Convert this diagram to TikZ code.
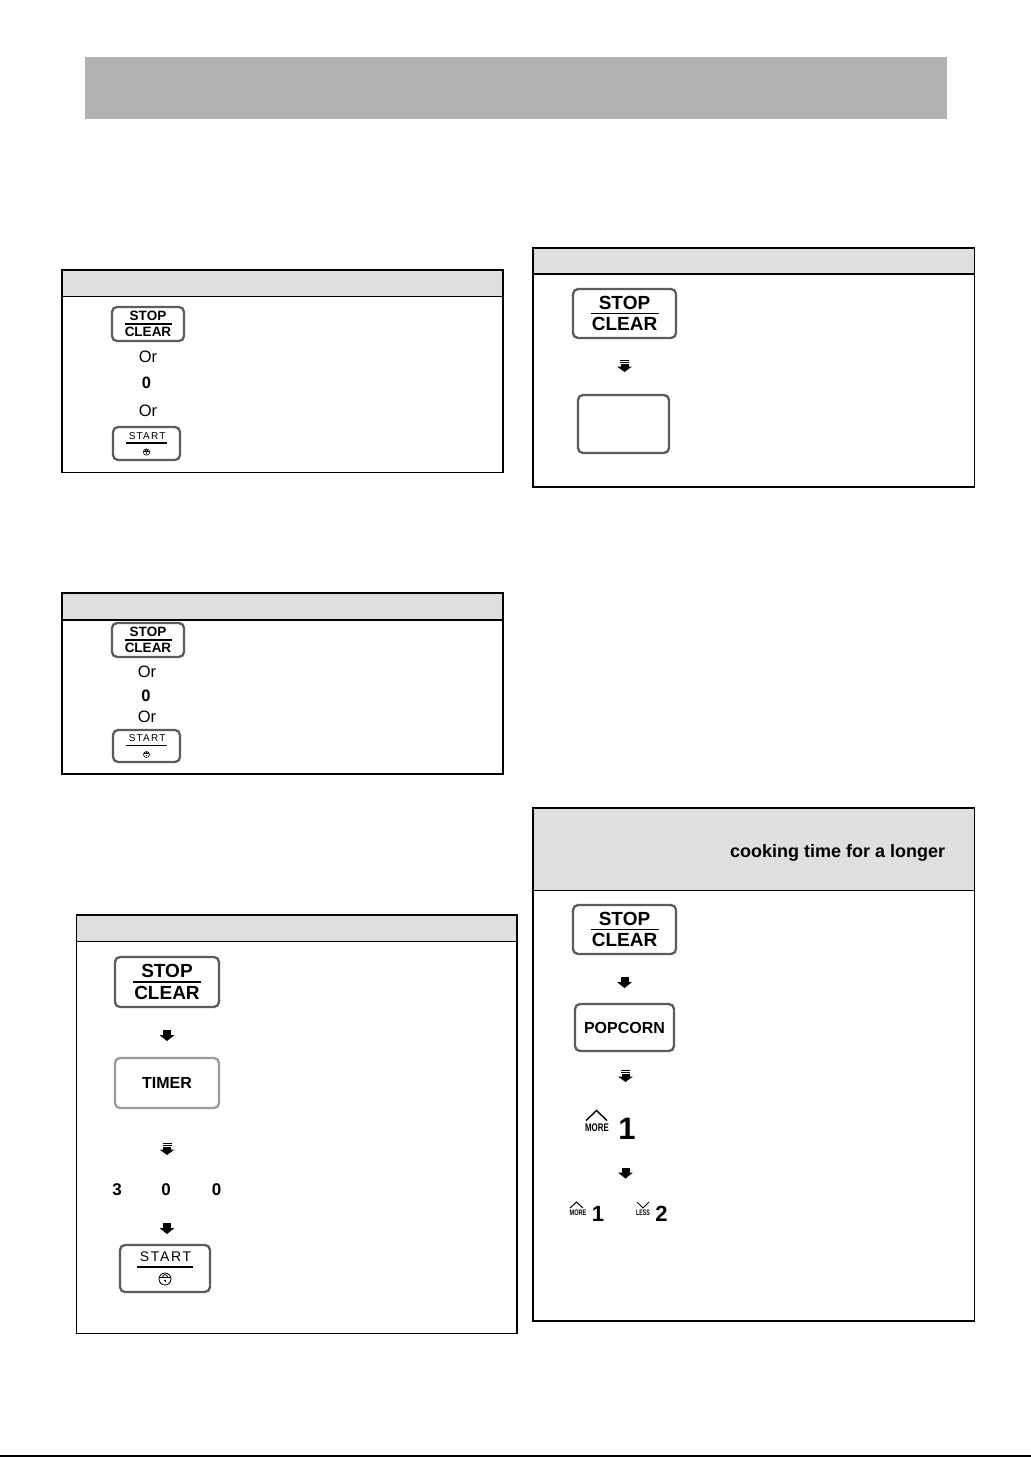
\documentclass[tikz,border=0pt]{standalone}
\usepackage{fontspec}
\setmainfont{Liberation Sans}
\newfontfamily\startfont[LetterSpace=12]{Liberation Sans}
\usetikzlibrary{calc}
\definecolor{bargray}{RGB}{178,178,178}
\definecolor{hdrgray}{RGB}{223,223,223}
\definecolor{keygray}{RGB}{92,92,92}
\definecolor{keylight}{RGB}{155,155,155}
\newcommand\fsz[1]{\fontsize{#1pt}{#1pt}\selectfont}
\tikzset{
  tbl/.style={draw=black, line width=1.3pt},
  hdr/.style={fill=hdrgray},
  keybox/.style={draw=keygray, line width=2.3pt, rounded corners=5pt, inner sep=0pt},
  keytxt/.style={inner sep=0pt, text=black},
  plain/.style={inner sep=0pt, text=black},
  caret/.style={line width=1.4pt, line cap=butt, line join=miter},
  sarrow/.pic={\fill (-4,-5.5) rectangle (4,-0.5); \fill (-7.5,-0.5) -- (7.5,-0.5) -- (0,5.5) -- cycle;},
  darrow/.pic={\fill (-4.5,-6.5) rectangle (4.5,-5.5); \fill (-4.5,-4.2) rectangle (4.5,-3.2);
               \fill (-4,-2) rectangle (4,0.5); \fill (-7.5,0.5) -- (7.5,0.5) -- (0,6) -- cycle;},
  lockpic/.pic={\draw (0,0) circle (6); \draw (-5.6,-1.8) -- (5.6,-1.8);
               \draw (-2.6,-1.8) arc (180:360:2.6); \fill (0,1.4) circle (0.9);
               \fill (-0.35,1.4) rectangle (0.35,3.4);},
}
% STOP/CLEAR key: name, x, y, w, h, font size, text offset, line half width
\newcommand\stopclear[8]{%
  \node[keybox, minimum width=#4pt, minimum height=#5pt] (#1) at (#2,#3) {};
  \node[keytxt, font=\fsz{#6}\bfseries] (#1-stop) at ($(#1.center)+(0,-#7)$) {STOP};
  \node[keytxt, font=\fsz{#6}\bfseries] (#1-clear) at ($(#1.center)+(0,#7)$) {CLEAR};
  \draw[line width={#5*0.03pt}] ($(#1.center)+(-#8,0)$) -- ($(#1.center)+(#8,0)$);
}
% START key: name, x, y, w, h, font size, text offset, line offset, lock offset
\newcommand\startkey[9]{%
  \node[keybox, minimum width=#4pt, minimum height=#5pt] (#1) at (#2,#3) {};
  \node[keytxt, font=\startfont\fsz{#6}] (#1-txt) at ($(#1.center)+(0.6,-#7)$) {START};
  \draw[line width={#5*0.035pt}] ($(#1.center)+({-0.31*#4},#8)$) -- ($(#1.center)+({0.31*#4},#8)$);
  \pic[scale={(#5-17)/30}, line width={#5*0.018pt}] at ($(#1.center)+(0,#9)$) {lockpic};
}
\begin{document}
\begin{tikzpicture}[x=1pt, y=-1pt]
\useasboundingbox (0,0) rectangle (1031,1457);
\fill[white] (0,0) rectangle (1031,1457);
% top bar
\fill[bargray] (85,57) rectangle (947,119);
% bottom rule
\draw[line width=2pt] (0,1456) -- (1031,1456);

% ---------- box 1 ----------
\fill[hdr] (62,270) rectangle (503,296.7);
\draw[tbl] (62,296.7) -- (503,296.7);
\draw[tbl] (62,270) rectangle (503,472.5);
\stopclear{sc1}{148}{324}{72}{34}{13.5}{7.9}{23.5}
\node[plain, font=\fsz{16.5}, anchor=base] (or1a) at (148,362) {Or};
\node[plain, font=\fsz{16.5}\bfseries, anchor=base] (zero1) at (146.5,388.5) {0};
\node[plain, font=\fsz{16.5}, anchor=base] (or1b) at (148,416) {Or};
\startkey{st1}{146.5}{443.5}{67}{33}{10}{7.5}{-0.5}{8.5}

% ---------- box 2 ----------
\fill[hdr] (62,593) rectangle (503,620);
\draw[tbl] (62,620) -- (503,620);
\draw[tbl] (62,593) rectangle (503,774);
\stopclear{sc2}{148}{640}{72}{34}{13.5}{7.9}{23.5}
\node[plain, font=\fsz{16.5}, anchor=base] (or2a) at (147,677.5) {Or};
\node[plain, font=\fsz{16.5}\bfseries, anchor=base] (zero2) at (146,701.5) {0};
\node[plain, font=\fsz{16.5}, anchor=base] (or2b) at (147,722.5) {Or};
\startkey{st2}{146.5}{746}{67}{32}{10}{7.5}{-0.5}{8.5}

% ---------- box 3 ----------
\fill[hdr] (76.5,915) rectangle (517,941.5);
\draw[tbl] (76.5,941.5) -- (517,941.5);
\draw[tbl] (76.5,915) rectangle (517,1333.5);
\stopclear{sc3}{167}{982}{104}{50}{19}{10.75}{34}
\pic at (167,1035.5) {sarrow};
\node[keybox, draw=keylight, minimum width=104pt, minimum height=50pt, font=\fsz{16}\bfseries] (timer) at (167,1083) {TIMER};
\pic at (167,1149) {darrow};
\node[plain, font=\fsz{17}\bfseries, anchor=base] (d3) at (117,1195.5) {3};
\node[plain, font=\fsz{17}\bfseries, anchor=base] (d0a) at (166,1195.5) {0};
\node[plain, font=\fsz{17}\bfseries, anchor=base] (d0b) at (216.5,1195.5) {0};
\pic at (167,1228.5) {sarrow};
\startkey{st3}{165}{1268.5}{90}{47}{14}{11.5}{-1.5}{10.5}

% ---------- box 4 ----------
\fill[hdr] (533,248) rectangle (974.5,274);
\draw[tbl] (533,274) -- (974.5,274);
\draw[tbl] (533,248) rectangle (974.5,487);
\stopclear{sc4}{624.5}{313.5}{103}{49}{19}{10.75}{34}
\pic at (624.5,366) {darrow};
\node[keybox, minimum width=91pt, minimum height=58pt] (blank) at (623.5,424) {};

% ---------- box 5 ----------
\fill[hdr] (533,808) rectangle (974.5,890.5);
\draw[tbl] (533,890.5) -- (974.5,890.5);
\draw[tbl] (533,808) rectangle (974.5,1321);
\node[plain, font=\fsz{18}\bfseries, anchor=base west] (h5) at (730,857) {cooking time for a longer};
\stopclear{sc5}{624.5}{929.5}{103}{49}{19}{10.75}{34}
\pic at (624.5,982.5) {sarrow};
\node[keybox, minimum width=99pt, minimum height=47pt, font=\fsz{16}\bfseries] (popcorn) at (624.5,1027.5) {POPCORN};
\pic at (625.5,1076) {darrow};
% big MORE 1
\draw[caret] (586,1120.5) -- (596.5,1110.5) -- (607,1120.5);
\node[plain, font=\fsz{11}\bfseries] (more1) at (597,1127.5) {\scalebox{0.72}[1]{MORE}};
\node[plain, font=\fsz{31}\bfseries, anchor=base] (one1) at (627,1139) {1};
\pic at (625.5,1173) {sarrow};
% small MORE 1 / LESS 2
\draw[caret, line width=1pt] (570,1208) -- (576.5,1202) -- (583,1208);
\node[plain, font=\fsz{8}\bfseries] (more2) at (578,1213) {\scalebox{0.7}[1]{MORE}};
\node[plain, font=\fsz{22}\bfseries, anchor=base] (one2) at (598,1221) {1};
\draw[caret, line width=1pt] (637,1202) -- (643,1208) -- (649,1202);
\node[plain, font=\fsz{8}\bfseries] (less2) at (643,1213) {\scalebox{0.65}[1]{LESS}};
\node[plain, font=\fsz{22}\bfseries, anchor=base] (two2) at (661.5,1221) {2};
\end{tikzpicture}
\end{document}
